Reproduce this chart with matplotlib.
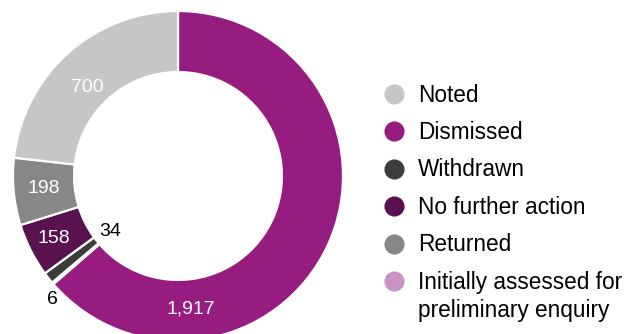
import numpy as np
import matplotlib
matplotlib.use("Agg")
from matplotlib import pyplot as plt
from matplotlib.lines import Line2D

plt.rcParams['font.family'] = ['Liberation Sans', 'DejaVu Sans']

#-----------------------------------------------------------------------------------#
## data (clockwise from 12 o'clock)
categories = ["Dismissed", "Initially assessed for preliminary enquiry", "Withdrawn",
              "No further action", "Returned", "Noted"]
values = [1917, 6, 34, 158, 198, 700]
colors = ["#961c80", "#c994c5", "#3c3c3b", "#5a1150", "#878787", "#c6c6c6"]
value_labels = ["1,917", "6", "34", "158", "198", "700"]

legend_order = ["Noted", "Dismissed", "Withdrawn", "No further action", "Returned",
                "Initially assessed for preliminary enquiry"]

#-----------------------------------------------------------------------------------#
W, H = 629, 334
fig = plt.figure(figsize=(W / 100, H / 100), dpi=100)

# pie axes: centre (178, 176) px from top-left, radius 165 px
cx, cy, R = 178, 176, 165
ax = fig.add_axes([(cx - R) / W, (H - cy - R) / H, 2 * R / W, 2 * R / H])

wedges, _ = ax.pie(values, colors=colors, startangle=90, counterclock=False,
                   radius=1.0, wedgeprops=dict(width=0.37, edgecolor="white", linewidth=1.6))
ax.set_xlim(-1, 1)
ax.set_ylim(-1, 1)
ax.axis("off")

# label placement (radius, angle override, colour)
total = float(sum(values))
label_style = {
    "1,917": (0.81, 275.6, "white"),
    "6": (1.07, 224.5, "black"),
    "34": (0.53, 219.5, "black"),
    "158": (0.84, None, "white"),
    "198": (0.82, None, "white"),
    "700": (0.77, 135.6, "white"),
}
start = 90.0
for v, lab in zip(values, value_labels):
    span = v / total * 360.0
    mid = start - span / 2
    start -= span
    r, ang, col = label_style[lab]
    if ang is None:
        ang = mid
    a = np.deg2rad(ang)
    ax.text(r * np.cos(a), r * np.sin(a), lab, color=col, fontsize=14,
            ha="center", va="center")

#-----------------------------------------------------------------------------------#
## legend (long label wrapped: second line hangs under the first)
handles = []
for name in legend_order:
    c = colors[categories.index(name)]
    first_line = name.replace(" preliminary enquiry", "")
    handles.append(Line2D([], [], marker="o", ls="", markersize=13.5,
                          markerfacecolor=c, markeredgecolor=c, label=first_line))

leg = fig.legend(handles=handles, loc="upper left", bbox_to_anchor=(384 / W, 1 - 83.5 / H),
                 frameon=False, fontsize=16.3, labelspacing=0.64, handlelength=0.9,
                 handletextpad=0.6, borderpad=0, borderaxespad=0)
last = leg.get_texts()[-1]
fig.draw_without_rendering()
ax.annotate("preliminary enquiry", xy=(0, 0), xycoords=last,
            xytext=(0, -5), textcoords="offset pixels",
            fontsize=16.3, ha="left", va="top", annotation_clip=False)

fig.savefig("out.png", dpi=100)
